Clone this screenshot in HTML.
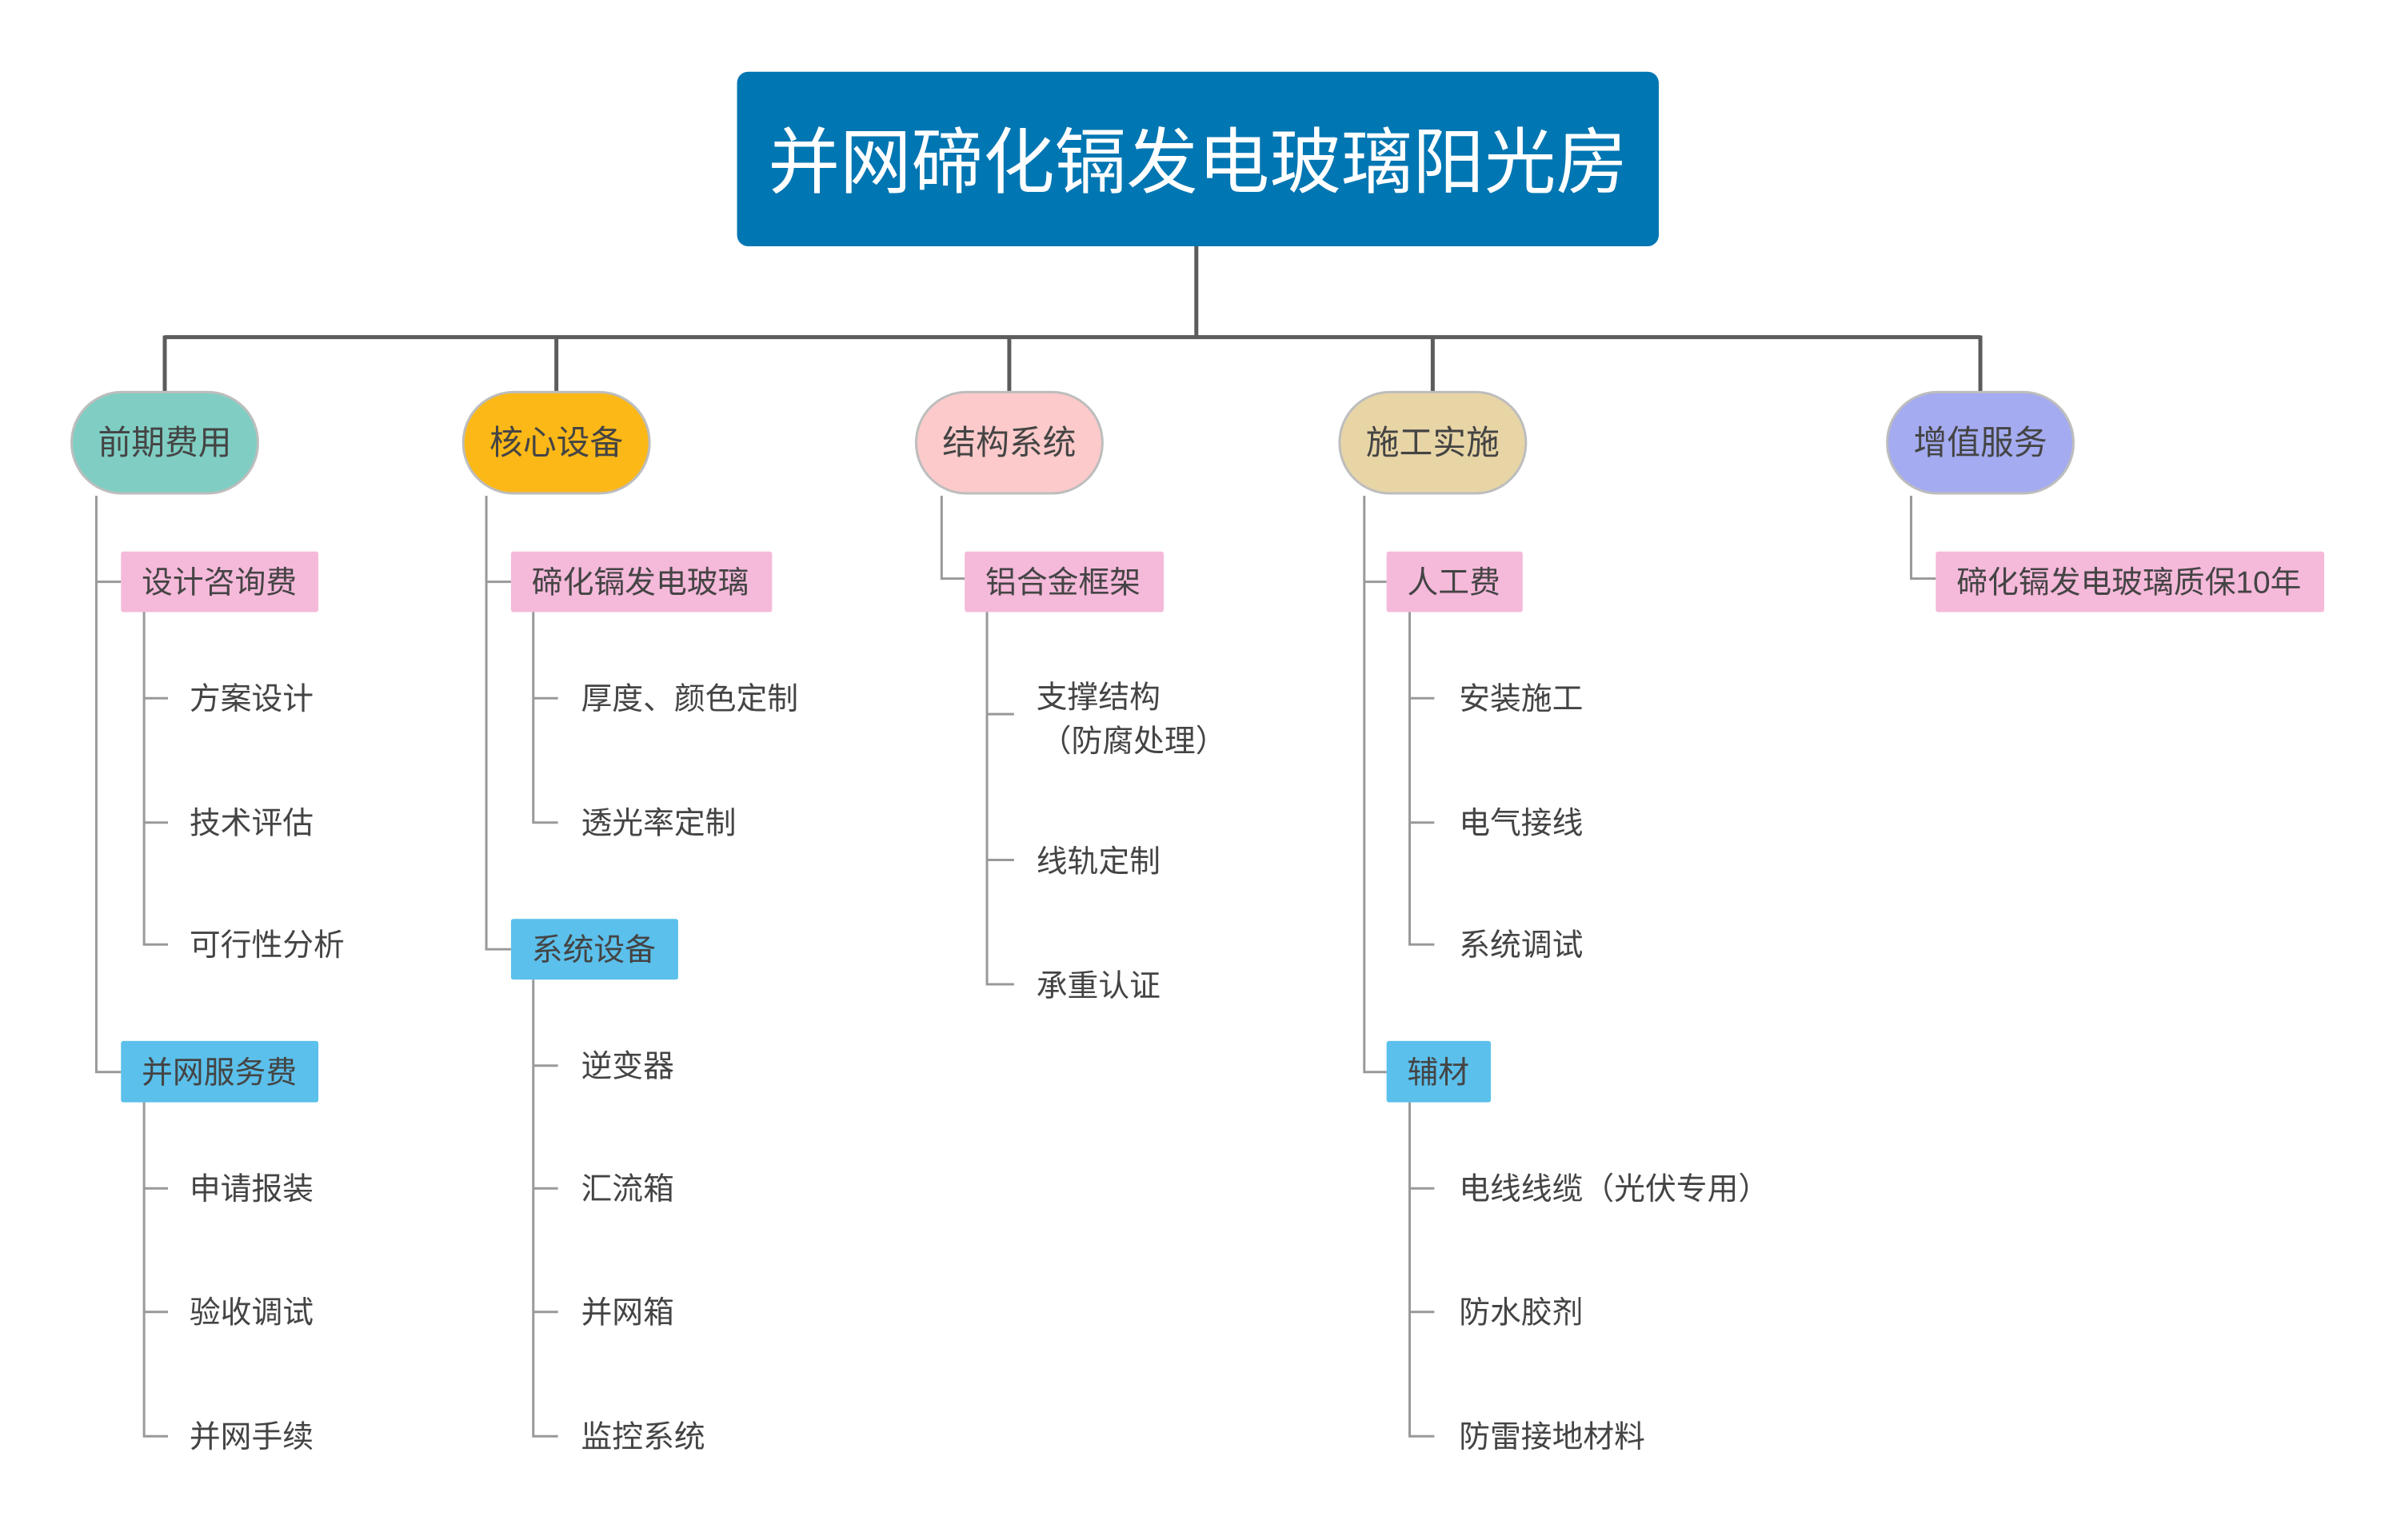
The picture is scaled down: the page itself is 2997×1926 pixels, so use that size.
<!DOCTYPE html>
<html><head><meta charset="utf-8"><style>
html,body{margin:0;padding:0;background:#fff;}
svg{display:block;}
text{font-family:"Liberation Sans","Noto Sans CJK SC",sans-serif;}
</style></head><body>
<svg width="2997" height="1926" viewBox="0 0 2997 1926" xmlns="http://www.w3.org/2000/svg">
<rect x="0" y="0" width="2997" height="1926" fill="#fff"/>
<g transform="scale(0.9952,0.9968)">
<rect x="926" y="90" width="1158" height="219" rx="14" fill="#0076b2"/>
<text x="1505" y="235" font-size="90" fill="#fff" text-anchor="middle">并网碲化镉发电玻璃阳光房</text>
<g stroke="#5c5c5c" stroke-width="5" fill="none">
<line x1="1503" y1="309" x2="1503" y2="423"/>
<line x1="207" y1="423" x2="2488" y2="423"/>
<line x1="207" y1="421" x2="207" y2="494"/>
<line x1="699" y1="421" x2="699" y2="494"/>
<line x1="1268" y1="421" x2="1268" y2="494"/>
<line x1="1800" y1="421" x2="1800" y2="494"/>
<line x1="2488" y1="421" x2="2488" y2="494"/>
</g>
<g stroke="#bdbdbd" stroke-width="3">
<rect x="90" y="492" width="234" height="127" rx="63" fill="#80cec3"/>
<rect x="582" y="492" width="234" height="127" rx="63" fill="#fbb817"/>
<rect x="1151" y="492" width="234" height="127" rx="63" fill="#fccaca"/>
<rect x="1683" y="492" width="234" height="127" rx="63" fill="#e8d5a6"/>
<rect x="2371" y="492" width="234" height="127" rx="63" fill="#a4abf0"/>
</g>
<g font-size="42" fill="#444" text-anchor="middle">
<text x="207" y="570">前期费用</text>
<text x="699" y="570">核心设备</text>
<text x="1268" y="570">结构系统</text>
<text x="1800" y="570">施工实施</text>
<text x="2488" y="570">增值服务</text>
</g>
<g stroke="#999" stroke-width="3" fill="none">
<path d="M121 622 V1345 H152 M121 730 H152"/>
<path d="M611 622 V1191 H642 M611 730 H642"/>
<path d="M1183 622 V726 H1212"/>
<path d="M1714 622 V1345 H1742 M1714 730 H1742"/>
<path d="M2401 622 V726 H2432"/>
<path d="M181 768 V1185 H211 M181 876 H211 M181 1032 H211"/>
<path d="M181 1383 V1802 H211 M181 1491 H211 M181 1646 H211"/>
<path d="M670 768 V1032 H701 M670 876 H701"/>
<path d="M670 1229 V1802 H701 M670 1337 H701 M670 1491 H701 M670 1646 H701"/>
<path d="M1240 768 V1235 H1274 M1240 896 H1274 M1240 1079 H1274"/>
<path d="M1771 768 V1185 H1802 M1771 876 H1802 M1771 1032 H1802"/>
<path d="M1771 1383 V1802 H1802 M1771 1491 H1802 M1771 1646 H1802"/>
</g>
<g>
<rect x="152" y="692" width="248" height="76" rx="3" fill="#f5b9da"/>
<rect x="152" y="1306" width="248" height="77" rx="3" fill="#5bc0eb"/>
<rect x="642" y="692" width="328" height="76" rx="3" fill="#f5b9da"/>
<rect x="642" y="1153" width="210" height="76" rx="3" fill="#5bc0eb"/>
<rect x="1212" y="692" width="250" height="76" rx="3" fill="#f5b9da"/>
<rect x="1742" y="692" width="171" height="76" rx="3" fill="#f5b9da"/>
<rect x="1742" y="1306" width="131" height="77" rx="3" fill="#5bc0eb"/>
<rect x="2432" y="692" width="488" height="76" rx="3" fill="#f5b9da"/>
</g>
<g font-size="39" fill="#444">
<text x="178" y="744">设计咨询费</text>
<text x="178" y="1359">并网服务费</text>
<text x="668" y="744">碲化镉发电玻璃</text>
<text x="668" y="1205">系统设备</text>
<text x="1238" y="744">铝合金框架</text>
<text x="1768" y="744">人工费</text>
<text x="1768" y="1359">辅材</text>
<text x="2458" y="744">碲化镉发电玻璃质保10年</text>
</g>
<g font-size="39" fill="#444">
<text x="238" y="890">方案设计</text>
<text x="238" y="1046">技术评估</text>
<text x="238" y="1199">可行性分析</text>
<text x="238" y="1505">申请报装</text>
<text x="238" y="1660">验收调试</text>
<text x="238" y="1816">并网手续</text>
<text x="730" y="890">厚度、颜色定制</text>
<text x="730" y="1046">透光率定制</text>
<text x="730" y="1351">逆变器</text>
<text x="730" y="1505">汇流箱</text>
<text x="730" y="1660">并网箱</text>
<text x="730" y="1816">监控系统</text>
<text x="1302" y="888">支撑结构</text>
<text x="1307" y="943">（防腐处理）</text>
<text x="1302" y="1094">线轨定制</text>
<text x="1302" y="1250">承重认证</text>
<text x="1833" y="890">安装施工</text>
<text x="1833" y="1046">电气接线</text>
<text x="1833" y="1199">系统调试</text>
<text x="1833" y="1505">电线线缆（光伏专用）</text>
<text x="1833" y="1660">防水胶剂</text>
<text x="1833" y="1816">防雷接地材料</text>
</g>
</g>
</svg>
</body></html>
